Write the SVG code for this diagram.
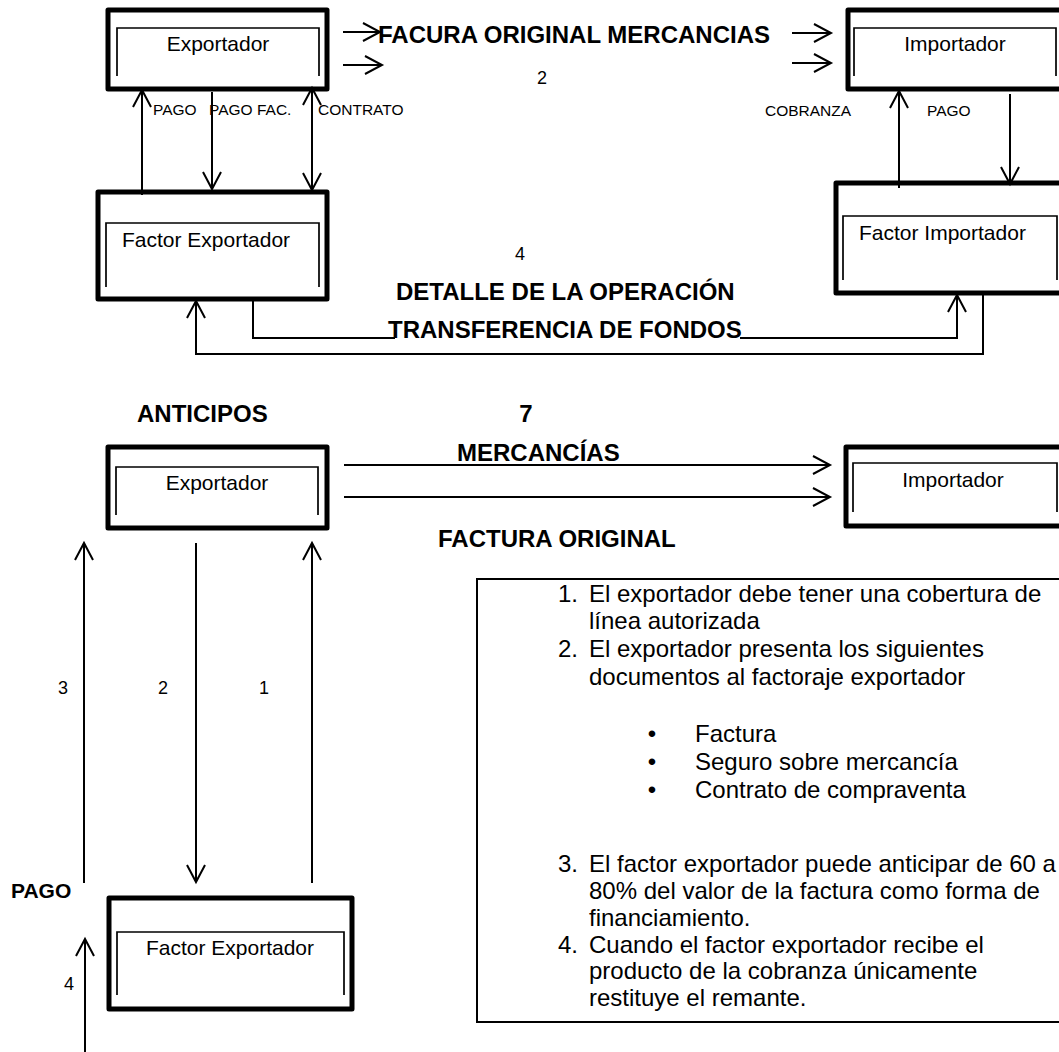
<svg xmlns="http://www.w3.org/2000/svg" width="1059" height="1052" viewBox="0 0 1059 1052">
  <defs>
    <style>
      text{font-family:"Liberation Sans",Arial,sans-serif;fill:#000}
      .box{fill:#fff;stroke:#000;stroke-width:5;stroke-linejoin:round}
      .inner{fill:none;stroke:#000;stroke-width:1.7}
      .node{font-size:21px}
      .lbl{font-size:15.5px}
      .big{font-size:24px;font-weight:bold}
      .num{font-size:18px}
      .list{font-size:24px}
      .wire{fill:none;stroke:#000;stroke-width:2}
      .arr{marker-end:url(#ah)}
      .both{marker-start:url(#ah);marker-end:url(#ah)}
      .frame{fill:none;stroke:#000;stroke-width:2}
    </style>
    <marker id="ah" markerUnits="userSpaceOnUse" markerWidth="24" markerHeight="24" viewBox="-20 -12 24 24" refX="0" refY="0" orient="auto-start-reverse" overflow="visible">
      <path d="M-17,-9 L0,0 L-17,9" fill="none" stroke="#000" stroke-width="2"/>
    </marker>
  </defs>
  <rect width="1059" height="1052" fill="#fff"/>

  <!-- upper scheme: factoring with two factors -->
  <g id="exportador-1">
    <rect class="box" x="108" y="10" width="219" height="79"/>
    <path class="inner" d="M117,76 V28 H319 V76"/>
    <text class="node" x="218" y="51" text-anchor="middle">Exportador</text>
  </g>
  <g id="importador-1">
    <rect class="box" x="848" y="10" width="218" height="79"/>
    <path class="inner" d="M854,76 V28 H1056 V76"/>
    <text class="node" x="955" y="51" text-anchor="middle">Importador</text>
  </g>
  <g id="factor-exportador-1">
    <rect class="box" x="98" y="192" width="229" height="107"/>
    <path class="inner" d="M106,287 V223 H319 V287"/>
    <text class="node" x="122" y="247">Factor Exportador</text>
  </g>
  <g id="factor-importador-1">
    <rect class="box" x="836" y="183" width="230" height="110"/>
    <path class="inner" d="M843,280 V216 H1057 V280"/>
    <text class="node" x="859" y="240">Factor Importador</text>
  </g>

  <!-- lower scheme: advance payment -->
  <g id="exportador-2">
    <rect class="box" x="108" y="447" width="219" height="81"/>
    <path class="inner" d="M116,515 V467 H318 V515"/>
    <text class="node" x="217" y="490" text-anchor="middle">Exportador</text>
  </g>
  <g id="importador-2">
    <rect class="box" x="846" y="447" width="220" height="79"/>
    <path class="inner" d="M853,512 V463 H1057 V512"/>
    <text class="node" x="953" y="487" text-anchor="middle">Importador</text>
  </g>
  <g id="factor-exportador-2">
    <rect class="box" x="109" y="898" width="243" height="111"/>
    <path class="inner" d="M117,995 V932 H344 V995"/>
    <text class="node" x="230" y="955" text-anchor="middle">Factor Exportador</text>
  </g>

  <g id="connectors">
    <!-- upper scheme -->
    <line class="wire arr" x1="343" y1="32" x2="380" y2="32"/>
    <line class="wire arr" x1="343" y1="65" x2="382" y2="65"/>
    <line class="wire arr" x1="792" y1="33" x2="831" y2="33"/>
    <line class="wire arr" x1="792" y1="63" x2="831" y2="63"/>
    <line class="wire arr" x1="142" y1="195" x2="142" y2="90"/>
    <line class="wire arr" x1="212" y1="92" x2="212" y2="189"/>
    <line class="wire both" x1="312" y1="88" x2="312" y2="190"/>
    <line class="wire arr" x1="899" y1="188" x2="899" y2="91"/>
    <line class="wire arr" x1="1010" y1="94" x2="1010" y2="184"/>
    <path class="wire" d="M253,300 V338 H395"/>
    <path class="wire arr" d="M740,338 H957 V295"/>
    <path class="wire arr" d="M983,294 V354 H196 V301"/>
    <!-- lower scheme -->
    <line class="wire arr" x1="344" y1="465" x2="830" y2="465"/>
    <line class="wire arr" x1="344" y1="497" x2="830" y2="497"/>
    <line class="wire arr" x1="84" y1="883" x2="84" y2="543"/>
    <line class="wire arr" x1="196" y1="543" x2="196" y2="882"/>
    <line class="wire arr" x1="312" y1="883" x2="312" y2="543"/>
    <line class="wire arr" x1="85" y1="1052" x2="85" y2="939"/>
  </g>

  <g id="labels">
    <text class="big" x="378" y="43">FACURA ORIGINAL MERCANCIAS</text>
    <text class="num" x="542" y="84" text-anchor="middle">2</text>
    <text class="lbl" x="153" y="115">PAGO</text>
    <text class="lbl" x="209" y="115">PAGO FAC.</text>
    <text class="lbl" x="318" y="115">CONTRATO</text>
    <text class="lbl" x="765" y="116">COBRANZA</text>
    <text class="lbl" x="927" y="116">PAGO</text>
    <text class="num" x="520" y="260" text-anchor="middle">4</text>
    <text class="big" x="396" y="300">DETALLE DE LA OPERACIÓN</text>
    <text class="big" x="388" y="338">TRANSFERENCIA DE FONDOS</text>

    <text class="big" x="137" y="422">ANTICIPOS</text>
    <text class="big" x="526" y="422" text-anchor="middle">7</text>
    <text class="big" x="457" y="461">MERCANCÍAS</text>
    <text class="big" x="438" y="547">FACTURA ORIGINAL</text>
    <text class="num" x="63" y="694" text-anchor="middle">3</text>
    <text class="num" x="163" y="694" text-anchor="middle">2</text>
    <text class="num" x="264" y="694" text-anchor="middle">1</text>
    <text class="big" x="11" y="898" style="font-size:21px">PAGO</text>
    <text class="num" x="69" y="990" text-anchor="middle">4</text>
  </g>

  <g id="notes">
    <rect class="frame" x="477" y="579" width="590" height="443"/>
    <g class="list">
      <text x="558" y="602">1.</text>
      <text x="589" y="602">El exportador debe tener una cobertura de</text>
      <text x="589" y="629">línea autorizada</text>
      <text x="558" y="657">2.</text>
      <text x="589" y="657">El exportador presenta los siguientes</text>
      <text x="589" y="685">documentos al factoraje exportador</text>
      <text x="652" y="742" text-anchor="middle">•</text>
      <text x="695" y="742">Factura</text>
      <text x="652" y="770" text-anchor="middle">•</text>
      <text x="695" y="770">Seguro sobre mercancía</text>
      <text x="652" y="798" text-anchor="middle">•</text>
      <text x="695" y="798">Contrato de compraventa</text>
      <text x="558" y="872">3.</text>
      <text x="589" y="872">El factor exportador puede anticipar de 60 a</text>
      <text x="589" y="899">80% del valor de la factura como forma de</text>
      <text x="589" y="926">financiamiento.</text>
      <text x="558" y="953">4.</text>
      <text x="589" y="953">Cuando el factor exportador recibe el</text>
      <text x="589" y="979">producto de la cobranza únicamente</text>
      <text x="589" y="1006">restituye el remante.</text>
    </g>
  </g>
</svg>
